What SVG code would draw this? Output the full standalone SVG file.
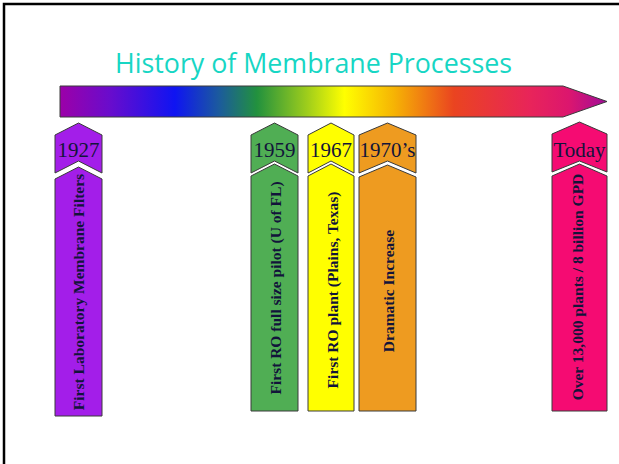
<svg xmlns="http://www.w3.org/2000/svg" width="619" height="464" viewBox="0 0 619 464">
  <defs>
    <linearGradient id="spectrum" gradientUnits="userSpaceOnUse" x1="60" y1="0" x2="607" y2="0">
      <stop offset="0" stop-color="#9C00A8"/>
      <stop offset="0.09" stop-color="#6A0CCC"/>
      <stop offset="0.21" stop-color="#0F14F2"/>
      <stop offset="0.29" stop-color="#1B5A9E"/>
      <stop offset="0.36" stop-color="#22913E"/>
      <stop offset="0.45" stop-color="#9CCC1C"/>
      <stop offset="0.52" stop-color="#FFFF00"/>
      <stop offset="0.61" stop-color="#F6B404"/>
      <stop offset="0.72" stop-color="#EA4420"/>
      <stop offset="0.86" stop-color="#E8245A"/>
      <stop offset="0.93" stop-color="#DC166E"/>
      <stop offset="1" stop-color="#A00C98"/>
    </linearGradient>
  </defs>
  <style>
    .frame { fill: none; stroke: #000; stroke-width: 2.5; }
    .title { font-family: "Open Sans", "Liberation Sans", sans-serif; font-size: 28px; fill: #17D6C4; }
    .shape { stroke: #3a3a3a; stroke-width: 1; }
    .year { font-family: "Liberation Serif", serif; font-size: 21px; fill: #12143a; text-anchor: middle; }
    .desc { font-family: "Liberation Serif", serif; font-size: 15.5px; font-weight: bold; fill: #12143a; text-anchor: middle; }
    .purple { fill: #A31EE9; }
    .green { fill: #50AE54; }
    .yellow { fill: #FFFF00; }
    .orange { fill: #EE9B20; }
    .pink { fill: #F50B72; }
  </style>

  <rect class="frame" x="4" y="4" width="640" height="490"/>

  <text class="title" x="313.5" y="73" text-anchor="middle" textLength="397" lengthAdjust="spacingAndGlyphs">History of Membrane Processes</text>

  <g id="connectors">
    <polygon id="timeline" class="shape" fill="url(#spectrum)" points="60,86 563,86 607,101.5 563,117 60,117"/>
  </g>

  <g id="node-1927">
    <polygon class="shape purple" points="55,135 78.5,123 102,135 102,173 78.5,161 55,173"/>
    <polygon class="shape purple" points="55,179 78.5,167 102,179 102,416 55,416"/>
    <text class="year" x="78.5" y="157">1927</text>
    <text class="desc" transform="translate(84,292) rotate(-90)">First Laboratory Membrane Filters</text>
  </g>

  <g id="node-1959">
    <polygon class="shape green" points="251,135 274.5,123 298,135 298,173 274.5,161 251,173"/>
    <polygon class="shape green" points="251,176 274.5,164 298,176 298,411 251,411"/>
    <text class="year" x="274.5" y="157">1959</text>
    <text class="desc" transform="translate(280.5,288) rotate(-90)">First RO full size pilot (U of FL)</text>
  </g>

  <g id="node-1967">
    <polygon class="shape yellow" points="308,135 331,123 354,135 354,173 331,161 308,173"/>
    <polygon class="shape yellow" points="308,176 331,164 354,176 354,411 308,411"/>
    <text class="year" x="331" y="157">1967</text>
    <text class="desc" transform="translate(337.5,290) rotate(-90)">First RO plant (Plains, Texas)</text>
  </g>

  <g id="node-1970s">
    <polygon class="shape orange" points="359,135 387.5,123 416,135 416,173 387.5,161 359,173"/>
    <polygon class="shape orange" points="359,177 387.5,165 416,177 416,411 359,411"/>
    <text class="year" x="387.5" y="157">1970’s</text>
    <text class="desc" transform="translate(393.5,291) rotate(-90)">Dramatic Increase</text>
  </g>

  <g id="node-today">
    <polygon class="shape pink" points="552,134 579.5,122 607,134 607,172 579.5,161 552,172"/>
    <polygon class="shape pink" points="552,176 579.5,164 607,176 607,411 552,411"/>
    <text class="year" x="579.5" y="157">Today</text>
    <text class="desc" transform="translate(583,287) rotate(-90)">Over 13,000 plants / 8 billion GPD</text>
  </g>
</svg>
